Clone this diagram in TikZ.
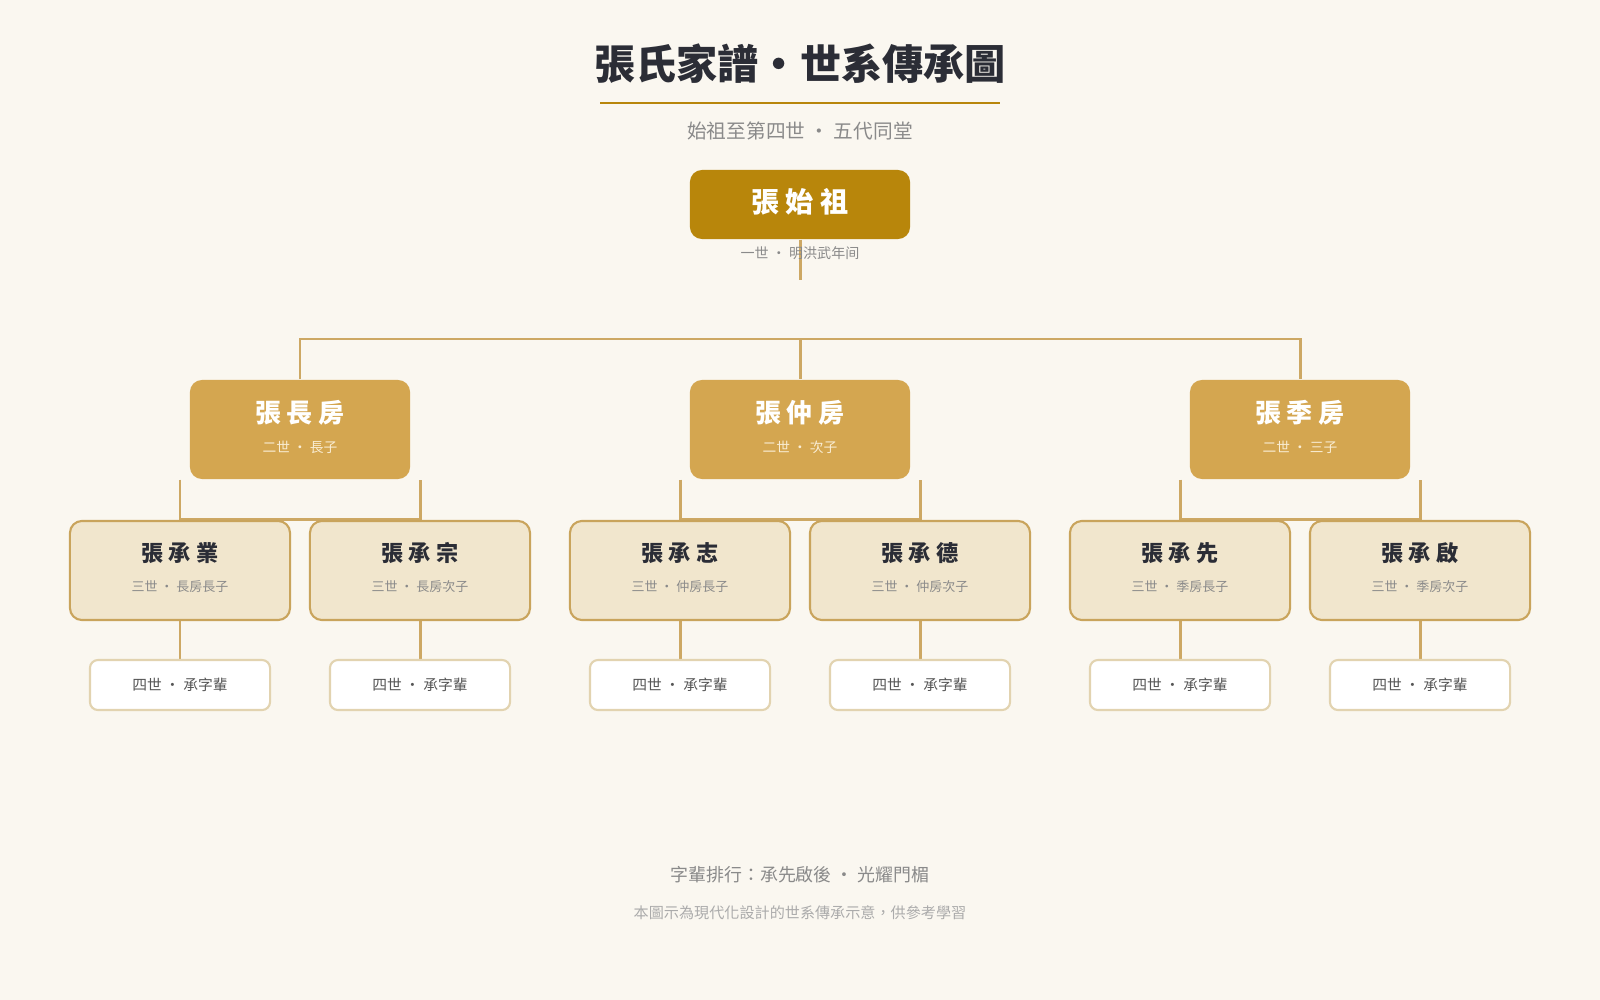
\documentclass[tikz,border=0pt]{standalone}
\usepackage{fontspec}
\setmainfont{Noto Sans CJK TC}
\usepackage{tikz}
\usetikzlibrary{positioning, backgrounds}
\usepackage{xcolor}

\definecolor{paper}{HTML}{FAF7F0}
\definecolor{rootgold}{HTML}{B8860B}
\definecolor{branchgold}{HTML}{D4A650}
\definecolor{branchsubtext}{HTML}{F9EDD4}
\definecolor{sonfill}{HTML}{F1E6CD}
\definecolor{sonedge}{HTML}{C9A45C}
\definecolor{leafedge}{HTML}{E2D3B0}
\definecolor{linkgold}{HTML}{CDA864}
\definecolor{ink}{HTML}{2B2D36}
\definecolor{graytext}{HTML}{8A8A8A}
\definecolor{leaftext}{HTML}{555555}
\definecolor{faintgray}{HTML}{ABABAB}

\begin{document}
\begin{tikzpicture}[
    x=0.01cm, y=-0.01cm,
    % Node styles
    rootbox/.style={rectangle, rounded corners=0.12cm, fill=rootgold, minimum width=2.2cm, minimum height=0.69cm},
    branch/.style={rectangle, rounded corners=0.12cm, fill=branchgold, minimum width=2.2cm, minimum height=0.99cm},
    son/.style={rectangle, rounded corners=0.12cm, draw=sonedge, line width=0.6pt, fill=sonfill, minimum width=2.2cm, minimum height=0.99cm},
    leaf/.style={rectangle, rounded corners=0.08cm, draw=leafedge, line width=0.6pt, fill=white, minimum width=1.8cm, minimum height=0.5cm, text=leaftext, font=\fontsize{4.2pt}{5pt}\selectfont},
    rootname/.style={text=white, font=\fontsize{8pt}{9pt}\selectfont\bfseries},
    branchname/.style={text=white, font=\fontsize{7.4pt}{8pt}\selectfont\bfseries},
    branchsub/.style={text=branchsubtext, font=\fontsize{3.9pt}{4.5pt}\selectfont},
    sonname/.style={text=ink, font=\fontsize{6.3pt}{7pt}\selectfont\bfseries},
    sonsub/.style={text=graytext, font=\fontsize{3.7pt}{4.5pt}\selectfont},
    link/.style={draw=linkgold, line width=0.85pt},
]
\useasboundingbox (0,0) rectangle (1600,1000);

% Title
\node[text=ink, font=\fontsize{11.7pt}{13pt}\selectfont\bfseries] (title) at (800,64) {張氏家譜·世系傳承圖};
\draw[rootgold, line width=0.85pt] (600,103) -- (1000,103);
\node[text=graytext, font=\fontsize{5.6pt}{6.5pt}\selectfont] (subtitle) at (800,131) {始祖至第四世 ・ 五代同堂};

% Generation 1
\node[rootbox] (root) at (800,204.5) {};
\node[rootname] (root-name) at (800,202) {張 始 祖};
\node[text=graytext, font=\fontsize{4pt}{5pt}\selectfont] (root-sub) at (800,253) {一世 ・ 明洪武年间};
\coordinate (rootstem) at (800,280);
\coordinate (bar) at (800,339);

% Generation 2
\node[branch] (chang) at (300,429.5) {};
\node[branchname] (chang-name) at (300,413) {張 長 房};
\node[branchsub] (chang-sub) at (300,447) {二世 ・ 長子};

\node[branch] (zhong) at (800,429.5) {};
\node[branchname] (zhong-name) at (800,413) {張 仲 房};
\node[branchsub] (zhong-sub) at (800,447) {二世 ・ 次子};

\node[branch] (ji) at (1300,429.5) {};
\node[branchname] (ji-name) at (1300,413) {張 季 房};
\node[branchsub] (ji-sub) at (1300,447) {二世 ・ 三子};

% Generation 3
\node[son] (ye) at (180,570.5) {};
\node[sonname] (ye-name) at (180,553) {張 承 業};
\node[sonsub] (ye-sub) at (180,587) {三世 ・ 長房長子};

\node[son] (zong) at (420,570.5) {};
\node[sonname] (zong-name) at (420,553) {張 承 宗};
\node[sonsub] (zong-sub) at (420,587) {三世 ・ 長房次子};

\node[son] (zhi) at (680,570.5) {};
\node[sonname] (zhi-name) at (680,553) {張 承 志};
\node[sonsub] (zhi-sub) at (680,587) {三世 ・ 仲房長子};

\node[son] (de) at (920,570.5) {};
\node[sonname] (de-name) at (920,553) {張 承 德};
\node[sonsub] (de-sub) at (920,587) {三世 ・ 仲房次子};

\node[son] (xian) at (1180,570.5) {};
\node[sonname] (xian-name) at (1180,553) {張 承 先};
\node[sonsub] (xian-sub) at (1180,587) {三世 ・ 季房長子};

\node[son] (qi) at (1420,570.5) {};
\node[sonname] (qi-name) at (1420,553) {張 承 啟};
\node[sonsub] (qi-sub) at (1420,587) {三世 ・ 季房次子};

% Generation 4
\node[leaf] (ye-4) at (180,685) {四世 ・ 承字輩};
\node[leaf] (zong-4) at (420,685) {四世 ・ 承字輩};
\node[leaf] (zhi-4) at (680,685) {四世 ・ 承字輩};
\node[leaf] (de-4) at (920,685) {四世 ・ 承字輩};
\node[leaf] (xian-4) at (1180,685) {四世 ・ 承字輩};
\node[leaf] (qi-4) at (1420,685) {四世 ・ 承字輩};

% Footer
\node[text=graytext, font=\fontsize{5.1pt}{6pt}\selectfont] (motto) at (800,875) {字輩排行：承先啟後 ・ 光耀門楣};
\node[text=faintgray, font=\fontsize{4.3pt}{5pt}\selectfont] (note) at (800,913) {本圖示為現代化設計的世系傳承示意，供參考學習};

% Connectors behind the boxes
\begin{pgfonlayer}{background}
\fill[paper] (0,0) rectangle (1600,1000);
\draw[link] (root.south) -- (rootstem);
\draw[link] (chang.north) |- (bar) -| (ji.north);
\draw[link] (bar) -- (zhong.north);
\draw[link] (chang.south -| ye.north) -- (ye.north) -- (zong.north) -- (chang.south -| zong.north);
\draw[link] (zhong.south -| zhi.north) -- (zhi.north) -- (de.north) -- (zhong.south -| de.north);
\draw[link] (ji.south -| xian.north) -- (xian.north) -- (qi.north) -- (ji.south -| qi.north);
\draw[link] (ye.south) -- (ye-4.north);
\draw[link] (zong.south) -- (zong-4.north);
\draw[link] (zhi.south) -- (zhi-4.north);
\draw[link] (de.south) -- (de-4.north);
\draw[link] (xian.south) -- (xian-4.north);
\draw[link] (qi.south) -- (qi-4.north);
\end{pgfonlayer}

\end{tikzpicture}
\end{document}
